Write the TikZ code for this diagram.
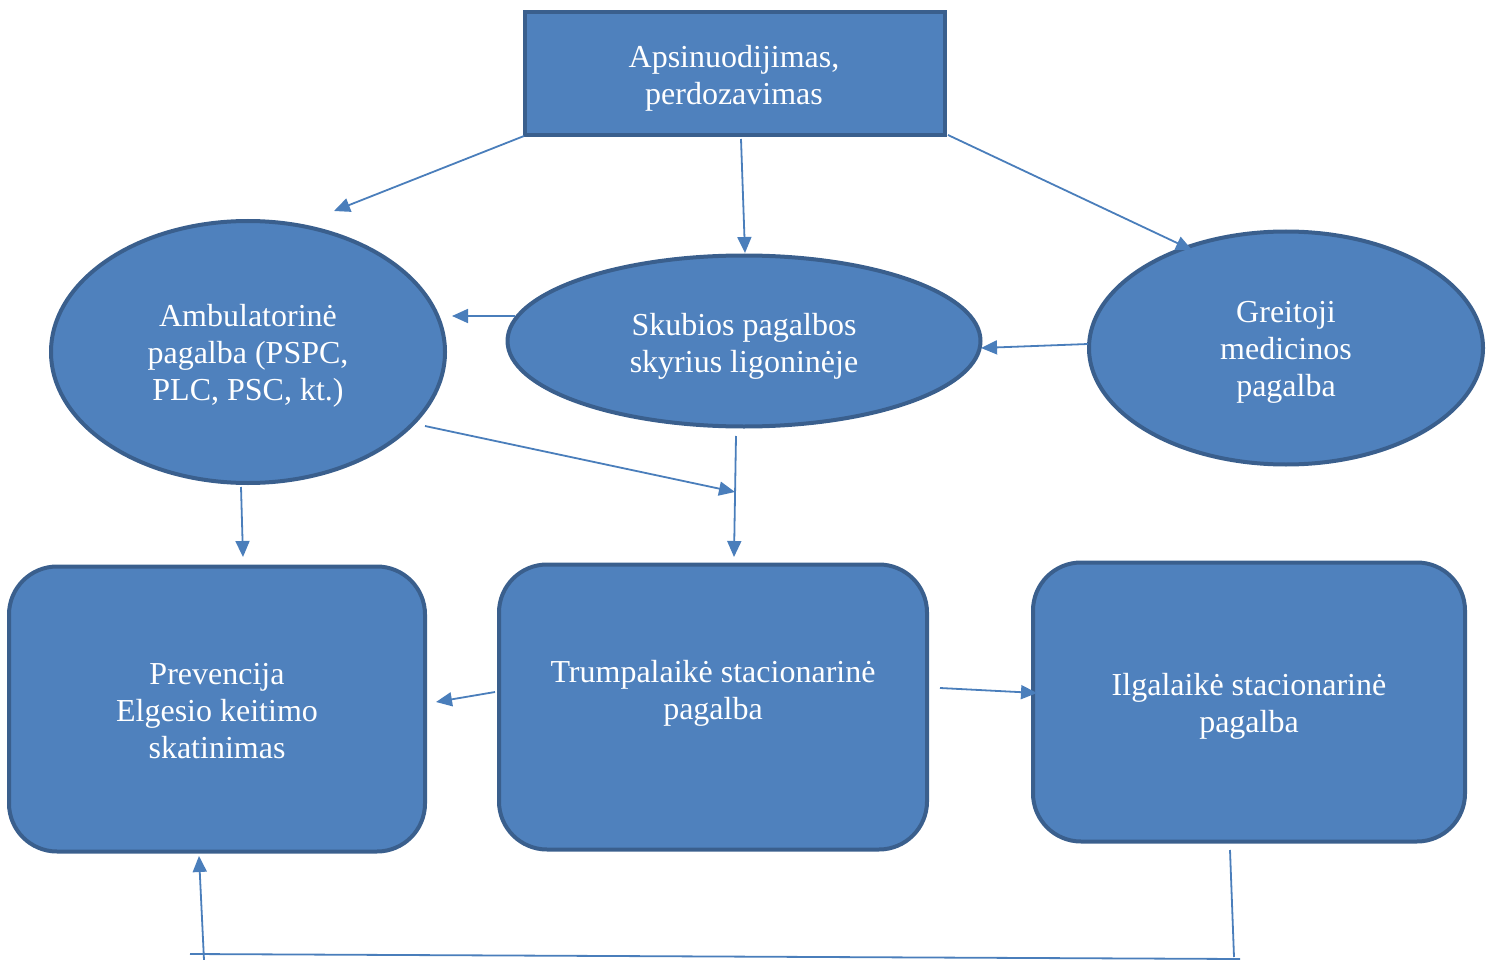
\documentclass[tikz,border=0pt]{standalone}
\usepackage{fontspec}
\setmainfont{Liberation Serif}
\usetikzlibrary{shapes.geometric,arrows.meta}
\definecolor{boxfill}{HTML}{4F81BD}
\definecolor{boxline}{HTML}{3A5F8D}
\definecolor{conn}{HTML}{4A7EBB}
\tikzset{
  shapebase/.style={fill=boxfill, draw=boxline, line width=4pt, inner sep=0pt},
  txt/.style={text=white, align=center, inner sep=0pt, font=\fontsize{32}{37}\selectfont},
  topbox/.style={shapebase, rectangle, minimum width=420pt, minimum height=123pt},
  oval/.style={shapebase, ellipse},
  rbox/.style={shapebase, rectangle, rounded corners=48pt},
  conn/.style={draw=conn, line width=1.8pt},
  arr/.style={conn, -{Triangle[length=16pt,width=14pt]}}
}
\begin{document}
\begin{tikzpicture}[x=1pt,y=-1pt]
\useasboundingbox (0,0) rectangle (1494,960);
\node[topbox] (top) at (735,74) {};
\node[txt] (toptxt) at (734,78) {Apsinuodijimas,\\perdozavimas};
\node[oval, minimum width=394pt, minimum height=262pt] (amb) at (248,352) {};
\node[txt] (ambtxt) at (248,356) {Ambulatorinė\\pagalba (PSPC,\\PLC, PSC, kt.)};
\node[oval, minimum width=473pt, minimum height=171pt] (sku) at (744,341) {};
\node[txt] (skutxt) at (744,346) {Skubios pagalbos\\skyrius ligoninėje};
\node[oval, minimum width=394pt, minimum height=233pt] (gre) at (1286,348) {};
\node[txt] (gretxt) at (1286,352) {Greitoji\\medicinos\\pagalba};
\node[rbox, minimum width=416pt, minimum height=285pt] (pre) at (217,709) {};
\node[txt] (pretxt) at (217,711) {Prevencija\\Elgesio keitimo\\skatinimas};
\node[rbox, minimum width=428pt, minimum height=285pt] (tru) at (713,707) {};
\node[txt] (trutxt) at (713,693) {Trumpalaikė stacionarinė\\pagalba};
\node[rbox, minimum width=432pt, minimum height=279pt] (ilg) at (1249,702) {};
\node[txt] (ilgtxt) at (1249,706) {Ilgalaikė stacionarinė\\pagalba};

% free ends of connectors
\coordinate (t1) at (524,136); \coordinate (a1) at (334,211);
\coordinate (t2) at (741,139); \coordinate (s1) at (745,253);
\coordinate (t3) at (948,135); \coordinate (g1) at (1192,250);
\coordinate (s2) at (515,316); \coordinate (a2) at (452,316);
\coordinate (g2) at (1088,344); \coordinate (s3) at (981,348);
\coordinate (a3) at (425,426); \coordinate (m1) at (735,492);
\coordinate (s4) at (736,436); \coordinate (tt) at (734,557);
\coordinate (a4) at (241,487); \coordinate (p1) at (243,557);
\coordinate (t4) at (495,692); \coordinate (p2) at (436,702);
\coordinate (t5) at (940,688); \coordinate (i1) at (1037,693);
\coordinate (i2) at (1230,850); \coordinate (b1) at (1234,957);
\coordinate (b2) at (1240,959); \coordinate (b3) at (190,954);
\coordinate (b4) at (204,960); \coordinate (p3) at (199,856);

\draw[arr] (t1) -- (a1);
\draw[arr] (t2) -- (s1);
\draw[arr] (t3) -- (g1);
\draw[arr] (s2) -- (a2);
\draw[arr] (g2) -- (s3);
\draw[arr] (a3) -- (m1);
\draw[arr] (s4) -- (tt);
\draw[arr] (a4) -- (p1);
\draw[arr] (t4) -- (p2);
\draw[arr] (t5) -- (i1);
\draw[conn] (i2) -- (b1);
\draw[conn] (b2) -- (b3);
\draw[arr] (b4) -- (p3);
\end{tikzpicture}
\end{document}
